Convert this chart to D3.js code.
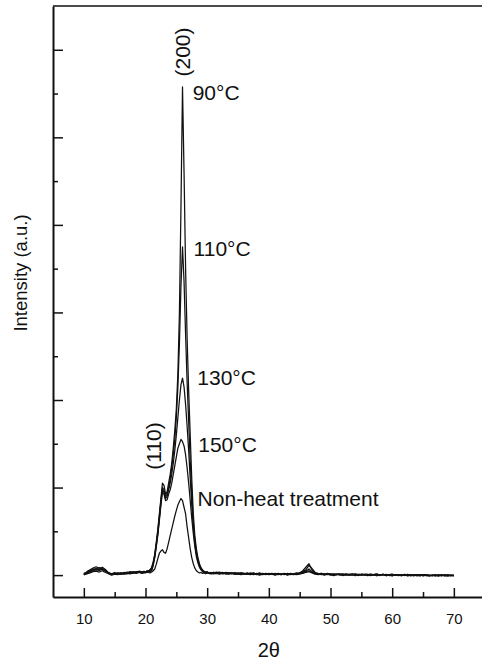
<!DOCTYPE html>
<html>
<head>
<meta charset="utf-8">
<script src="https://cdn.jsdelivr.net/npm/d3@7"></script>
<style>
  body { margin: 0; background: #fff; overflow: hidden; }
  text { font-family: "Liberation Sans", Arial, sans-serif; fill: #111; }
</style>
</head>
<body>
<script>
// grille en 2θ : pas de 0.5 hors du pic, 0.25 dans la zone du pic
const gridLeft = d3.range(10, 19.01, 0.5);
const gridPeak = d3.range(19.25, 30.76, 0.25);
const gridRight = d3.range(31, 70.01, 0.5);

// 90°C
const s90Left = [0.02,0.08,0.12,0.16,0.19,0.15,0.18,0.13,0.05,0.03,0.06,0.02,0.05,0.04,0.07,0.04,0.06,0.08,0.07];
const s90Peak = [0.06,0.08,0.05,0.07, 0.09,0.08,0.12,0.18, 0.3,0.48,0.75,1.05, 1.4,1.75,2.1,2.05,
  1.85,1.9,2.1,2.3, 2.55,2.9,3.3,3.8, 4.6,6.0,8.4,11.15, 9.2,7.0,5.4,4.2, 3.2,2.2,1.4,0.9,
  0.6,0.4,0.26,0.17, 0.12,0.09,0.07,0.08, 0.05,0.06,0.04];
const s90Right = [0.06,0.05,0.07,0.04,0.06,0.05,0.03,0.06,0.04,0.05,
  0.03,0.05,0.02,0.04,0.03,0.05,0.02,0.04,0.03,0.02,
  0.04,0.02,0.03,0.01,0.04,0.02,0.03,0.05,0.04,0.08,
  0.12,0.22,0.15,0.06,0.04,0.03,0.02,0.04,0.02,0.03,
  0.01,0.03,0.02,0.0,0.02,0.01,0.03,0.0,0.02,0.01,
  0.02,0.0,0.01,0.03,0.0,0.02,-0.01,0.01,0.02,0.0,
  0.01,-0.01,0.02,0.0,0.01,-0.01,0.01,0.0,-0.01,0.01,
  0.0,-0.01,0.01,-0.02,0.0,-0.01,0.01,-0.01,0.0];

// 110°C
const s110Left = [0.04,0.06,0.1,0.13,0.15,0.17,0.14,0.1,0.06,0.02,0.04,0.05,0.03,0.06,0.05,0.08,0.05,0.07,0.09];
const s110Peak = [0.08,0.06,0.09,0.07, 0.1,0.09,0.13,0.16, 0.28,0.45,0.72,1.0, 1.35,1.7,2.0,1.95,
  1.8,1.85,2.0,2.2, 2.45,2.75,3.1,3.6, 4.3,5.3,6.6,7.5, 6.7,5.5,4.4,3.5, 2.6,1.85,1.2,0.8,
  0.52,0.35,0.22,0.15, 0.1,0.08,0.06,0.07, 0.05,0.04,0.06];
const s110Right = [0.04,0.07,0.05,0.06,0.03,0.05,0.04,0.02,0.05,0.03,
  0.04,0.02,0.05,0.03,0.01,0.03,0.04,0.02,0.03,0.04,
  0.02,0.03,0.01,0.03,0.02,0.04,0.02,0.03,0.05,0.1,
  0.18,0.26,0.12,0.05,0.03,0.04,0.01,0.03,0.02,0.01,
  0.03,0.01,0.0,0.02,0.01,0.03,0.0,0.02,0.01,0.0,
  0.01,0.02,0.0,0.01,-0.01,0.02,0.0,0.01,-0.01,0.01,
  0.0,0.01,-0.01,0.02,0.0,-0.01,0.0,0.01,-0.02,0.0,
  -0.01,0.0,-0.02,0.01,-0.01,0.0,-0.02,-0.01,0.0];

// 130°C
const s130Left = [0.0,0.05,0.09,0.12,0.14,0.12,0.15,0.11,0.04,0.01,0.03,0.04,0.02,0.05,0.03,0.06,0.08,0.06,0.08];
const s130Peak = [0.05,0.07,0.06,0.08, 0.07,0.1,0.09,0.12, 0.25,0.42,0.68,0.95, 1.3,1.65,1.95,1.9,
  1.75,1.8,1.95,2.1, 2.3,2.55,2.85,3.2, 3.6,4.0,4.35,4.5, 4.3,3.9,3.4,2.85, 2.2,1.6,1.1,0.72,
  0.48,0.32,0.2,0.13, 0.09,0.07,0.05,0.06, 0.04,0.05,0.03];
const s130Right = [0.05,0.04,0.06,0.03,0.05,0.04,0.05,0.03,0.02,0.04,
  0.02,0.04,0.03,0.01,0.04,0.02,0.03,0.01,0.04,0.02,
  0.03,0.01,0.02,0.04,0.01,0.03,0.02,0.01,0.03,0.05,
  0.08,0.1,0.06,0.03,0.02,0.04,0.02,0.01,0.03,0.0,
  0.02,0.0,0.03,0.01,0.0,0.02,0.01,-0.01,0.02,0.01,
  0.0,0.02,0.01,-0.01,0.01,0.0,0.02,-0.01,0.0,0.01,
  -0.01,0.0,0.01,-0.01,0.0,0.01,-0.02,0.0,0.01,-0.01,
  0.0,-0.02,0.0,-0.01,0.01,-0.02,0.0,-0.01,-0.02];

// 150°C
const s150Left = [0.03,0.04,0.08,0.1,0.12,0.11,0.13,0.09,0.05,0.03,0.02,0.04,0.05,0.03,0.04,0.06,0.05,0.07,0.06];
const s150Peak = [0.07,0.05,0.08,0.06, 0.08,0.1,0.08,0.1, 0.22,0.4,0.65,0.92, 1.25,1.6,1.9,1.85,
  1.7,1.72,1.85,1.95, 2.1,2.3,2.5,2.7, 2.9,3.0,3.1,3.05, 2.95,2.75,2.45,2.1, 1.7,1.3,0.95,0.65,
  0.42,0.28,0.18,0.12, 0.08,0.06,0.07,0.05, 0.06,0.04,0.05];
const s150Right = [0.06,0.05,0.04,0.06,0.04,0.03,0.05,0.04,0.03,0.05,
  0.04,0.02,0.03,0.05,0.02,0.03,0.01,0.03,0.02,0.03,
  0.01,0.04,0.02,0.02,0.03,0.01,0.03,0.02,0.04,0.06,
  0.09,0.14,0.08,0.04,0.03,0.01,0.03,0.02,0.0,0.02,
  0.01,0.02,0.0,0.03,0.01,0.0,0.02,0.01,0.0,0.02,
  0.01,-0.01,0.01,0.02,0.0,0.01,-0.01,0.0,0.02,0.0,
  0.01,-0.01,0.0,0.01,-0.02,0.0,0.01,-0.01,0.0,0.01,
  -0.02,0.0,-0.01,0.0,-0.02,0.01,-0.01,0.0,-0.01];

// Non-heat treatment
const sNhLeft = [0.01,0.03,0.05,0.08,0.09,0.07,0.1,0.06,0.03,0.0,0.02,0.01,0.03,0.02,0.04,0.03,0.05,0.04,0.06];
const sNhPeak = [0.05,0.04,0.06,0.05, 0.07,0.06,0.05,0.07, 0.1,0.14,0.25,0.38, 0.5,0.55,0.58,0.52,
  0.5,0.6,0.75,0.9, 1.05,1.2,1.35,1.48, 1.6,1.68,1.75,1.7, 1.55,1.4,1.1,0.85, 0.6,0.4,0.26,0.16,
  0.1,0.07,0.05,0.06, 0.04,0.05,0.03,0.05, 0.04,0.03,0.04];
const sNhRight = [0.03,0.04,0.02,0.04,0.03,0.02,0.04,0.02,0.03,0.01,
  0.03,0.02,0.01,0.03,0.02,0.0,0.02,0.03,0.01,0.02,
  0.0,0.02,0.01,0.03,0.0,0.02,0.01,0.02,0.03,0.04,
  0.06,0.08,0.05,0.02,0.01,0.02,0.0,0.02,0.01,-0.01,
  0.01,0.02,-0.01,0.01,0.0,0.01,-0.01,0.01,0.0,0.01,
  -0.01,0.0,0.01,-0.01,0.0,0.02,-0.01,0.0,-0.02,0.01,
  0.0,-0.01,0.01,-0.02,0.0,-0.01,0.0,-0.02,0.01,-0.01,
  -0.02,0.0,-0.01,-0.02,0.0,-0.01,-0.02,0.0,-0.01];

const seriesNames = ["Non-heat treatment", "150°C", "130°C", "110°C", "90°C"];
const seriesParts = [
  [sNhLeft, sNhPeak, sNhRight],
  [s150Left, s150Peak, s150Right],
  [s130Left, s130Peak, s130Right],
  [s110Left, s110Peak, s110Right],
  [s90Left, s90Peak, s90Right]
];

// étiquettes des courbes : position en (2θ, intensité)
const curveLabels = ["90°C", "110°C", "130°C", "150°C", "Non-heat treatment"];
const curveLabelX = [27.65, 27.8, 28.4, 28.55, 28.45];
const curveLabelY = [10.85, 7.3, 4.34, 2.82, 1.58];

// indices de Miller (texte vertical)
const hklLabels = ["(200)", "(110)"];
const hklX = [27.2, 22.5];
const hklY = [11.95, 2.95];

const xMajorTicks = [10, 20, 30, 40, 50, 60, 70];
const xMinorTicks = [15, 25, 35, 45, 55, 65];
const yMajorTicks = [0, 2, 4, 6, 8, 10, 12];
const yMinorTicks = [1, 3, 5, 7, 9, 11];

const W = 482, H = 661;
const margin = {top: 6, left: 53, bottom: 64};

const svg = d3.select("body").append("svg")
  .attr("width", W)
  .attr("height", H)
  .style("display", "block");

const x = d3.scaleLinear().domain([5, 75]).range([margin.left, margin.left + 70 * 6.167]);
const y = d3.scaleLinear().domain([-0.5, 13]).range([H - margin.bottom, margin.top]);

const x0 = x.range()[0], x1 = x.range()[1];
const yBot = y.range()[0], yTop = y.range()[1];

// courbes
const line = d3.line().x(d => x(d[0])).y(d => y(d[1]));
const grid = gridLeft.concat(gridPeak, gridRight);

seriesParts.forEach((parts, i) => {
  const vals = parts[0].concat(parts[1], parts[2]);
  if (vals.length !== grid.length) console.warn("longueur incorrecte", seriesNames[i], vals.length, grid.length);
  const pts = grid.map((g, k) => [g, vals[k]]);
  svg.append("path")
    .datum(pts)
    .attr("fill", "none")
    .attr("stroke", "#111")
    .attr("stroke-width", 1.25)
    .attr("stroke-linejoin", "round")
    .attr("d", line);
});

// axe X (ticks vers l'intérieur)
svg.append("g")
  .attr("transform", `translate(0,${yBot})`)
  .call(d3.axisBottom(x).tickValues(xMinorTicks).tickSize(-5).tickSizeOuter(0).tickFormat(""))
  .call(g => g.select(".domain").remove())
  .call(g => g.selectAll("line").attr("stroke", "#111").attr("stroke-width", 1.5));

const xAxis = svg.append("g")
  .attr("transform", `translate(0,${yBot})`)
  .call(d3.axisBottom(x).tickValues(xMajorTicks).tickSize(-9).tickSizeOuter(0).tickPadding(16).tickFormat(d3.format("d")));
xAxis.select(".domain").attr("stroke", "#111").attr("stroke-width", 2);
xAxis.selectAll("line").attr("stroke", "#111").attr("stroke-width", 1.5);
xAxis.selectAll("text").style("font-size", "15px").attr("fill", "#111")
  .style("font-family", "'Liberation Sans', Arial, sans-serif");

// axe Y (sans étiquettes)
svg.append("g")
  .attr("transform", `translate(${x0},0)`)
  .call(d3.axisLeft(y).tickValues(yMinorTicks).tickSize(-5).tickFormat(""))
  .call(g => g.select(".domain").remove())
  .call(g => g.selectAll("line").attr("stroke", "#111").attr("stroke-width", 1.5));

const yAxis = svg.append("g")
  .attr("transform", `translate(${x0},0)`)
  .call(d3.axisLeft(y).tickValues(yMajorTicks).tickSize(-10).tickSizeOuter(0).tickFormat(""));
yAxis.select(".domain").attr("stroke", "#111").attr("stroke-width", 2);
yAxis.selectAll("line").attr("stroke", "#111").attr("stroke-width", 1.5);

// cadre du haut (le bord droit tombe hors de l'image)
svg.append("line")
  .attr("x1", x0).attr("x2", x1)
  .attr("y1", yTop).attr("y2", yTop)
  .attr("stroke", "#111").attr("stroke-width", 1.5);

// titres des axes
svg.append("text")
  .attr("x", x(40))
  .attr("y", 657)
  .attr("text-anchor", "middle")
  .style("font-size", "20px")
  .text("2θ");

svg.append("text")
  .attr("transform", "translate(26.5,273) rotate(-90)")
  .attr("text-anchor", "middle")
  .style("font-size", "18.5px")
  .text("Intensity (a.u.)");

// étiquettes
curveLabels.forEach((t, i) => {
  svg.append("text")
    .attr("x", x(curveLabelX[i]))
    .attr("y", y(curveLabelY[i]))
    .style("font-size", "21px")
    .text(t);
});

hklLabels.forEach((t, i) => {
  svg.append("text")
    .attr("transform", `translate(${x(hklX[i])},${y(hklY[i])}) rotate(-90)`)
    .attr("text-anchor", "middle")
    .style("font-size", "21px")
    .text(t);
});
</script>
</body>
</html>
